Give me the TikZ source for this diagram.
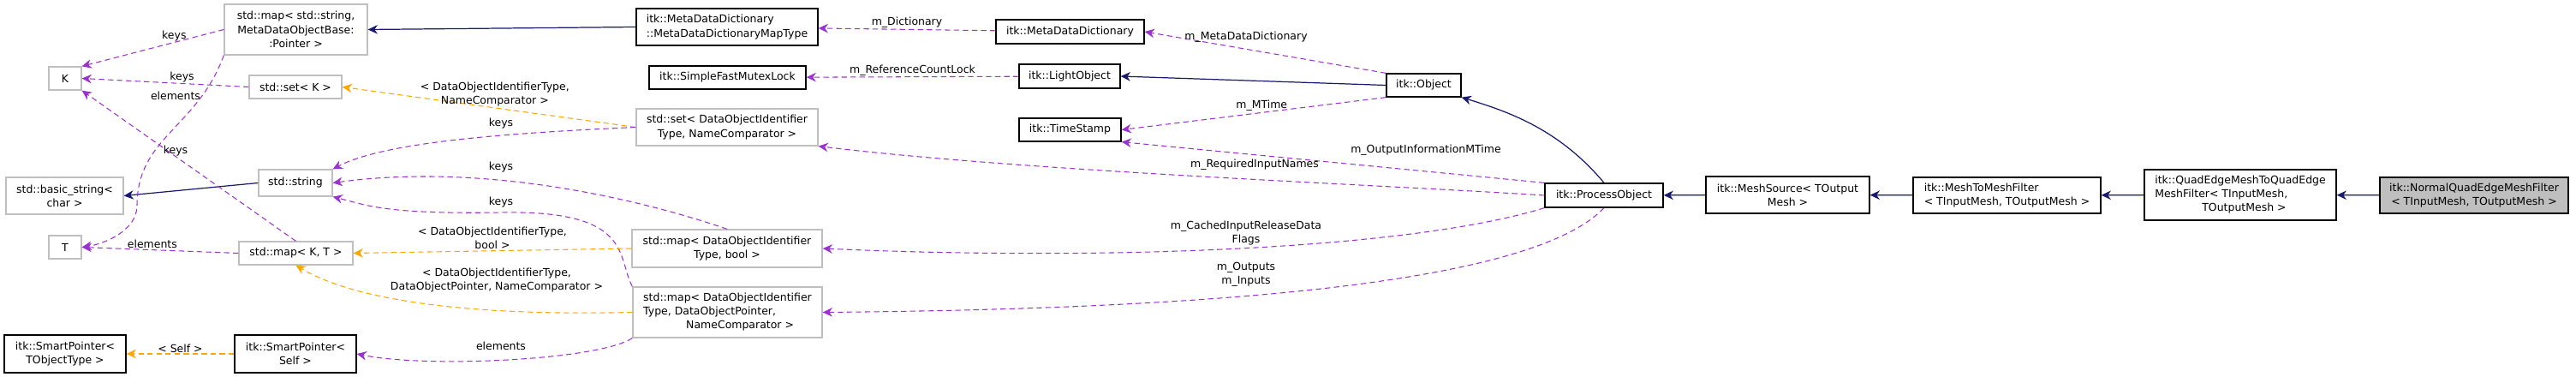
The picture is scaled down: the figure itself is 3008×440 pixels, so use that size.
\documentclass[tikz,border=0pt]{standalone}
\usepackage{fontspec}
\setmainfont{DejaVu Sans}
\usetikzlibrary{arrows.meta}
\definecolor{depcol}{HTML}{9A32CD}
\definecolor{tplcol}{HTML}{FFA500}
\definecolor{inhcol}{HTML}{191970}
\definecolor{stdcol}{HTML}{BFBFBF}
\begin{document}
\begin{tikzpicture}[
    x=0.01cm, y=-0.01cm,
    font=\fontsize{3.55}{4.6}\selectfont,
    box/.style={rectangle, draw=black, line width=0.35pt, inner sep=0.5pt, align=center, fill=white},
    stdbox/.style={box, draw=stdcol},
    lbl/.style={inner sep=0.3pt, align=center, text=black},
    dep/.style={-{Stealth[length=3.2pt,width=3pt]}, depcol, line width=0.3pt, dash pattern=on 1.8pt off 1.2pt},
    tpl/.style={dep, tplcol},
    inh/.style={-{Stealth[length=3.2pt,width=3pt]}, inhcol, line width=0.35pt}
]
\useasboundingbox (0,0) rectangle (3008,440);

% std containers
\node (mapStr) [stdbox, minimum width=1.67cm, minimum height=0.59cm] at (345.5,34.5) {std::map< std::string,\\MetaDataObjectBase:\\:Pointer >};
\node (K) [stdbox, minimum width=0.38cm, minimum height=0.27cm] at (76,91.5) {K};
\node (setK) [stdbox, minimum width=1.08cm, minimum height=0.27cm] at (345,101.5) {std::set< K >};
\node (basicStr) [stdbox, minimum width=1.37cm, minimum height=0.43cm] at (75.5,228.5) {std::basic\_string<\\char >};
\node (stdString) [stdbox, minimum width=0.86cm, minimum height=0.31cm] at (345,213.5) {std::string};
\node (T) [stdbox, minimum width=0.38cm, minimum height=0.27cm] at (76,288.5) {T};
\node (mapKT) [stdbox, minimum width=1.33cm, minimum height=0.27cm] at (345.5,295.5) {std::map< K, T >};
\node (setDOI) [stdbox, minimum width=2.12cm, minimum height=0.43cm] at (849,148.5) {std::set< DataObjectIdentifier\\Type, NameComparator >};
\node (mapDOIbool) [stdbox, minimum width=2.22cm, minimum height=0.44cm] at (849,290) {std::map< DataObjectIdentifier\\Type, bool >};
\node (mapDOIptr) [stdbox, minimum width=2.21cm, minimum height=0.59cm] at (849.5,364.5) {\begin{tabular}{@{}l@{}}std::map< DataObjectIdentifier\\Type, DataObjectPointer,\\\hspace*{0.5cm}NameComparator >\end{tabular}};

% itk classes
\node (spTObj) [box, minimum width=1.42cm, minimum height=0.44cm] at (76,413) {itk::SmartPointer<\\TObjectType >};
\node (spSelf) [box, minimum width=1.42cm, minimum height=0.44cm] at (345,413) {itk::SmartPointer<\\Self >};
\node (mddMapType) [box, minimum width=2.12cm, minimum height=0.43cm, align=left] at (849,31.5) {itk::MetaDataDictionary\\::MetaDataDictionaryMapType};
\node (mutexLock) [box, minimum width=1.83cm, minimum height=0.27cm] at (849.5,90.5) {itk::SimpleFastMutexLock};
\node (mdd) [box, minimum width=1.73cm, minimum height=0.28cm] at (1249.5,37) {itk::MetaDataDictionary};
\node (lightObj) [box, minimum width=1.18cm, minimum height=0.28cm] at (1249,89) {itk::LightObject};
\node (timeStamp) [box, minimum width=1.19cm, minimum height=0.27cm] at (1249.5,151.5) {itk::TimeStamp};
\node (object) [box, minimum width=0.87cm, minimum height=0.27cm] at (1662.5,99.5) {itk::Object};
\node (procObj) [box, minimum width=1.38cm, minimum height=0.28cm] at (1873,228) {itk::ProcessObject};
\node (meshSrc) [box, minimum width=1.91cm, minimum height=0.43cm] at (2087.5,227.5) {itk::MeshSource< TOutput\\Mesh >};
\node (meshToMesh) [box, minimum width=2.19cm, minimum height=0.42cm, align=left] at (2343.5,228) {itk::MeshToMeshFilter\\< TInputMesh, TOutputMesh >};
\node (quadEdge) [box, minimum width=2.24cm, minimum height=0.59cm] at (2616,227.5) {\begin{tabular}{@{}l@{}}itk::QuadEdgeMeshToQuadEdge\\MeshFilter< TInputMesh,\\\hspace*{0.55cm}TOutputMesh >\end{tabular}};
\node (normalQuad) [box, fill=stdcol, minimum width=2.20cm, minimum height=0.42cm] at (2889,228) {itk::NormalQuadEdgeMeshFilter\\< TInputMesh, TOutputMesh >};

% inheritance
\draw[inh] (normalQuad) -- (quadEdge);
\draw[inh] (quadEdge) -- (meshToMesh);
\draw[inh] (meshToMesh) -- (meshSrc);
\draw[inh] (meshSrc) -- (procObj);
\draw[inh] (procObj.north) .. controls (1820,150) and (1760,130) .. (object.south east);
\draw[inh] (object.west) -- (lightObj.east);
\draw[inh] (mddMapType.west) -- (mapStr.east);
\draw[inh] (stdString.west) -- (basicStr.east);

% members, left part
\draw[dep] (mapStr.west) -- node[lbl, above, pos=0.35] {keys} (K.north east);
\draw[dep] (setK.west) -- node[lbl, above, pos=0.4] {keys} (K.east);
\draw[dep] (mapStr.south west) .. controls (230,150) and (160,160) .. (160,240) .. controls (160,270) and (120,285) .. (T.east);
\node[lbl] (lblElemA) at (205,112) {elements};
\draw[dep] (mapKT.north) -- (K.south east);
\node[lbl] (lblKeysD) at (205,176) {keys};
\draw[dep] (mapKT.west) -- node[lbl, above, pos=0.55] {elements} (T.east);
\draw[tpl] (setDOI.west) -- node[lbl, above, pos=0.48] {< DataObjectIdentifierType,\\NameComparator >} (setK.east);
\draw[dep] (setDOI.west) .. controls (600,155) and (450,165) .. (stdString.north east);
\node[lbl] (lblKeysG) at (585,144) {keys};
\draw[dep] (mapDOIbool.north) .. controls (740,230) and (560,190) .. (stdString.east);
\node[lbl] (lblKeysH) at (585,195) {keys};
\draw[dep] (mapDOIptr.north west) .. controls (720,300) and (740,245) .. (585,248) .. controls (450,250) and (430,240) .. (stdString.south east);
\node[lbl] (lblKeysI) at (585,236) {keys};
\draw[tpl] (mapDOIbool.west) -- node[lbl, above, pos=0.5] {< DataObjectIdentifierType,\\bool >} (mapKT.east);
\draw[tpl] (mapDOIptr.west) .. controls (600,368) and (430,360) .. (mapKT.south);
\node[lbl] (lblTplK) at (580,327) {< DataObjectIdentifierType,\\DataObjectPointer, NameComparator >};
\draw[tpl] (spSelf) -- node[lbl, above] {< Self >} (spTObj);
\draw[dep] (mapDOIptr.south west) .. controls (700,420) and (500,430) .. (spSelf.east);
\node[lbl] (lblElemM) at (585,404) {elements};

% members, right part
\draw[dep] (mdd) -- node[lbl, above] {m\_Dictionary} (mddMapType);
\draw[dep] (object.north west) -- (mdd.east);
\node[lbl] (lblMetaDict) at (1455,43) {m\_MetaDataDictionary};
\draw[dep] (lightObj) -- node[lbl, above] {m\_ReferenceCountLock} (mutexLock);
\draw[dep] (object.south west) -- node[lbl, above, pos=0.47] {m\_MTime} (timeStamp.east);
\draw[dep] (procObj.north west) -- (timeStamp.south east);
\node[lbl] (lblOutMTime) at (1665,175) {m\_OutputInformationMTime};
\draw[dep] (procObj.west) .. controls (1600,215) and (1200,200) .. (setDOI.south east);
\node[lbl] (lblReqNames) at (1465,192) {m\_RequiredInputNames};
\draw[dep] (procObj.south west) .. controls (1650,290) and (1300,305) .. (mapDOIbool.east);
\node[lbl] (lblCached) at (1455,272) {m\_CachedInputReleaseData\\Flags};
\draw[dep] (procObj.south) .. controls (1800,320) and (1500,360) .. (mapDOIptr.east);
\node[lbl] (lblInOut) at (1455,320) {m\_Outputs\\m\_Inputs};

\end{tikzpicture}
\end{document}
